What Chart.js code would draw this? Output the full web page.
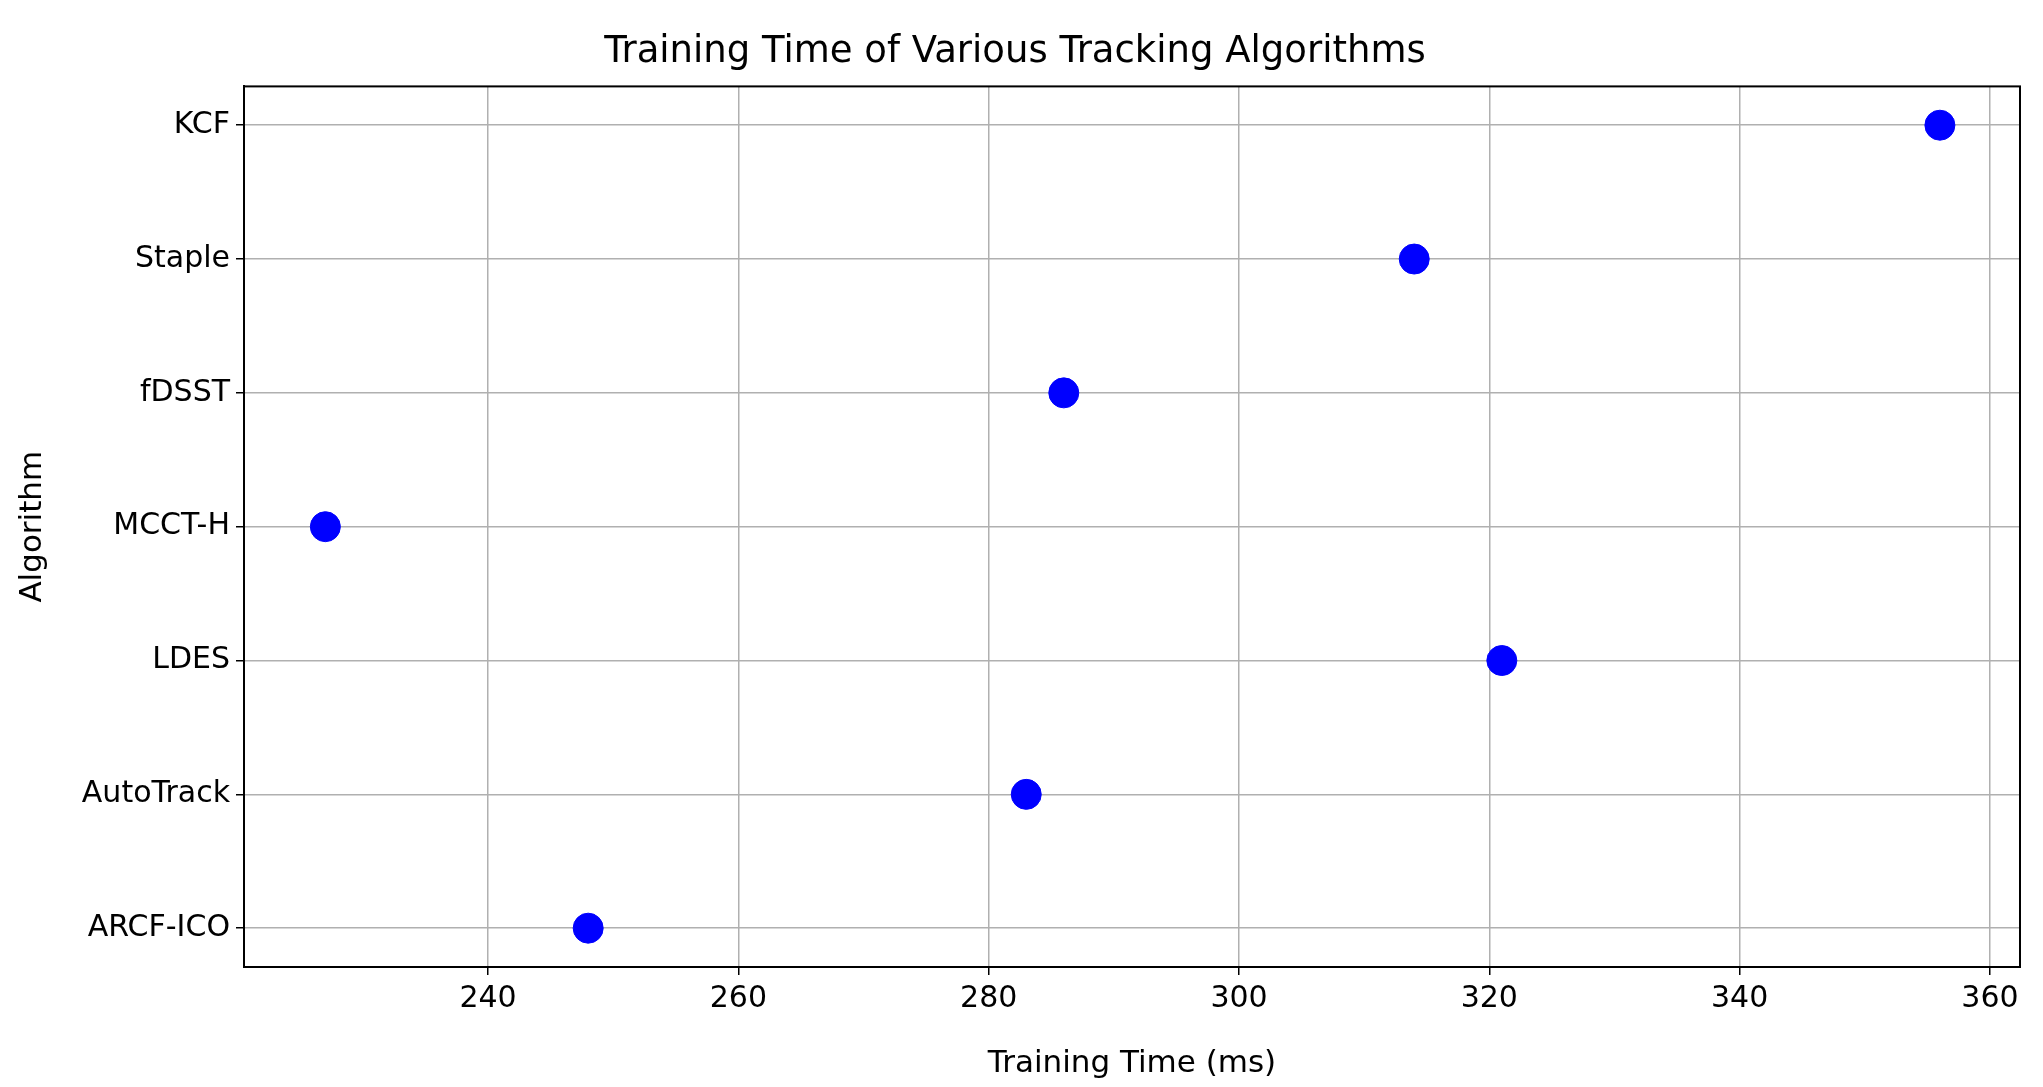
<!DOCTYPE html>
<html>
<head>
<meta charset="utf-8">
<script src="https://cdn.jsdelivr.net/npm/chart.js@4"></script>
<style>
  html, body { margin: 0; padding: 0; background: #fff; }
  #wrap { width: 2043px; height: 1087px; }
</style>
</head>
<body>
<div id="wrap"><canvas id="chart"></canvas></div>
<script>
// algorithms listed top to bottom
const algorithms = ['KCF', 'Staple', 'fDSST', 'MCCT-H', 'LDES', 'AutoTrack', 'ARCF-ICO'];
const trainingTimes = [356, 314, 286, 227, 321, 283, 248];
const xTicks = [240, 260, 280, 300, 320, 340, 360];

const points = algorithms.map(function(name, i) {
    return { x: trainingTimes[i], y: i };
});

Chart.defaults.font.family = 'DejaVu Sans';
Chart.defaults.color = '#000';

// full box around the plot area
const frame = {
    id: 'frame',
    afterDraw: function(chart) {
        const a = chart.chartArea, c = chart.ctx;
        c.save();
        c.strokeStyle = '#000';
        c.lineWidth = 2;
        c.strokeRect(a.left, a.top, a.right - a.left, a.bottom - a.top);
        c.restore();
    }
};

new Chart(document.getElementById('chart'), {
    type: 'scatter',
    data: {
        datasets: [{
            data: points,
            backgroundColor: '#0000ff',
            borderColor: '#0000ff',
            pointRadius: 15,
            pointHoverRadius: 15
        }]
    },
    plugins: [frame],
    options: {
        responsive: true,
        maintainAspectRatio: false,
        animation: false,
        layout: { padding: { left: 10, right: 23, top: 0, bottom: 0 } },
        plugins: {
            legend: { display: false },
            tooltip: { enabled: false },
            title: {
                display: true,
                text: 'Training Time of Various Tracking Algorithms',
                font: { size: 37, weight: 'normal' },
                padding: { top: 30, bottom: 12 }
            }
        },
        scales: {
            x: {
                type: 'linear',
                min: 220.5,
                max: 362.4,
                afterBuildTicks: function(axis) {
                    axis.ticks = xTicks.map(function(v) { return { value: v }; });
                },
                afterFit: function(axis) { axis.height = 120; },
                ticks: { font: { size: 30 }, padding: 6 },
                grid: { color: '#b0b0b0', lineWidth: 1.5, tickLength: 8, tickColor: '#000' },
                border: { color: '#000', width: 2 },
                title: { display: true, text: 'Training Time (ms)', font: { size: 31 }, padding: { top: 4 } }
            },
            y: {
                type: 'linear',
                reverse: true,
                min: -0.29,
                max: 6.29,
                afterBuildTicks: function(axis) {
                    axis.ticks = algorithms.map(function(n, i) { return { value: i }; });
                },
                afterFit: function(axis) { axis.width = 234; },
                ticks: {
                    font: { size: 30 },
                    padding: 6,
                    callback: function(v) { return algorithms[v]; }
                },
                grid: { color: '#b0b0b0', lineWidth: 1.5, tickLength: 8, tickColor: '#000' },
                border: { color: '#000', width: 2 },
                title: { display: true, text: 'Algorithm', font: { size: 31 }, padding: { bottom: 4 } }
            }
        }
    }
});
</script>
</body>
</html>
